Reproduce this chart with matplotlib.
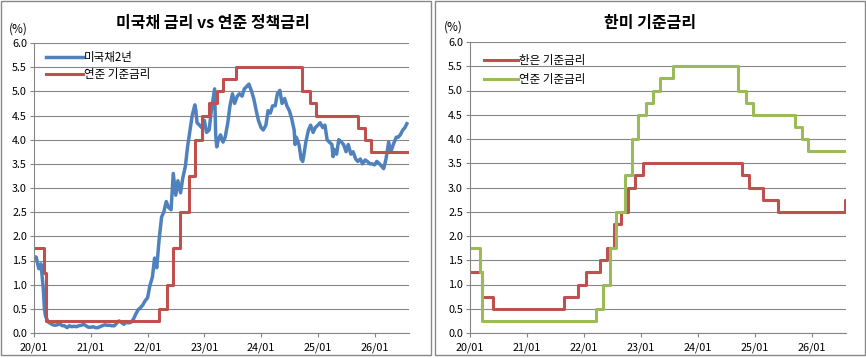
import numpy as np
import pandas as pd
import matplotlib
matplotlib.use('Agg')
import matplotlib.pyplot as plt
import matplotlib.dates as mdates
from matplotlib.patches import Rectangle

plt.rcParams['font.family'] = ['Noto Sans CJK KR', 'DejaVu Sans']

# US 2y treasury yield
ust2y_dates = [
    '2020-01-01', '2020-01-15', '2020-02-01', '2020-02-15', '2020-03-01', '2020-03-08', '2020-03-15',
    '2020-04-01', '2020-04-15', '2020-05-01', '2020-05-15', '2020-06-01', '2020-06-08', '2020-06-15',
    '2020-07-01', '2020-07-15', '2020-08-01', '2020-08-15', '2020-09-01', '2020-09-15', '2020-10-01',
    '2020-10-15', '2020-11-01', '2020-11-15', '2020-12-01', '2020-12-15',
    '2021-01-01', '2021-01-15', '2021-02-01', '2021-02-15', '2021-03-01', '2021-03-15', '2021-04-01',
    '2021-04-15', '2021-05-01', '2021-05-15', '2021-06-01', '2021-06-15', '2021-07-01', '2021-07-15',
    '2021-08-01', '2021-08-15', '2021-09-01', '2021-09-15', '2021-10-01', '2021-10-15', '2021-11-01',
    '2021-11-15', '2021-12-01', '2021-12-15',
    '2022-01-01', '2022-01-15', '2022-02-01', '2022-02-15', '2022-03-01', '2022-03-15', '2022-04-01',
    '2022-04-15', '2022-05-01', '2022-05-15', '2022-06-01', '2022-06-15', '2022-07-01', '2022-07-15',
    '2022-08-01', '2022-08-15', '2022-09-01', '2022-09-15', '2022-10-01', '2022-10-15', '2022-11-01',
    '2022-11-08', '2022-11-15', '2022-12-01', '2022-12-15',
    '2023-01-01', '2023-01-15', '2023-02-01', '2023-02-15', '2023-03-01', '2023-03-08', '2023-03-15',
    '2023-03-22', '2023-04-01', '2023-04-15', '2023-05-01', '2023-05-15', '2023-06-01', '2023-06-15',
    '2023-07-01', '2023-07-15', '2023-08-01', '2023-08-15', '2023-09-01', '2023-09-15', '2023-10-01',
    '2023-10-15', '2023-11-01', '2023-11-15', '2023-12-01', '2023-12-15',
    '2024-01-01', '2024-01-15', '2024-02-01', '2024-02-15', '2024-03-01', '2024-03-15', '2024-04-01',
    '2024-04-15', '2024-05-01', '2024-05-15', '2024-06-01', '2024-06-15', '2024-07-01', '2024-07-15',
    '2024-08-01', '2024-08-07', '2024-08-15', '2024-09-01', '2024-09-15', '2024-09-25', '2024-10-01',
    '2024-10-15', '2024-11-01', '2024-11-15', '2024-12-01', '2024-12-15',
    '2025-01-01', '2025-01-15', '2025-02-01', '2025-02-15', '2025-03-01', '2025-03-15', '2025-04-01',
    '2025-04-08', '2025-04-15', '2025-05-01', '2025-05-15', '2025-06-01', '2025-06-15', '2025-07-01',
    '2025-07-15', '2025-08-01', '2025-08-15', '2025-09-01', '2025-09-15', '2025-10-01', '2025-10-15',
    '2025-11-01', '2025-11-15', '2025-12-01', '2025-12-15',
    '2026-01-01', '2026-01-15', '2026-02-01', '2026-02-15', '2026-02-28', '2026-03-15', '2026-04-01',
    '2026-04-15', '2026-05-01', '2026-05-20', '2026-06-01', '2026-06-15', '2026-07-01', '2026-07-15',
    '2026-07-27',
]
ust2y = [
    1.58, 1.57, 1.33, 1.43, 0.90, 0.50, 0.35,
    0.23, 0.20, 0.17, 0.16, 0.17, 0.22, 0.19,
    0.15, 0.15, 0.11, 0.15, 0.13, 0.14, 0.13,
    0.15, 0.16, 0.18, 0.15, 0.12,
    0.12, 0.13, 0.11, 0.11, 0.13, 0.15, 0.17,
    0.16, 0.16, 0.15, 0.15, 0.20, 0.25, 0.22,
    0.18, 0.22, 0.21, 0.22, 0.28, 0.38, 0.48,
    0.52, 0.58, 0.66,
    0.73, 0.97, 1.16, 1.55, 1.35, 1.90, 2.40,
    2.50, 2.72, 2.60, 2.55, 3.30, 2.85, 3.15,
    2.90, 3.20, 3.45, 3.85, 4.20, 4.50, 4.72,
    4.60, 4.35, 4.30, 4.25,
    4.40, 4.15, 4.20, 4.60, 4.90, 5.05, 4.10,
    3.85, 4.00, 4.10, 3.95, 4.05, 4.35, 4.70,
    4.95, 4.75, 4.90, 4.95, 4.90, 5.05, 5.10,
    5.15, 5.00, 4.85, 4.60, 4.40,
    4.25, 4.20, 4.30, 4.60, 4.55, 4.70, 4.70,
    4.95, 5.02, 4.75, 4.85, 4.70, 4.60, 4.45,
    4.20, 3.90, 4.05, 3.90, 3.60, 3.55, 3.65,
    3.95, 4.20, 4.30, 4.15, 4.25,
    4.30, 4.35, 4.25, 4.30, 4.00, 3.95, 3.90,
    3.65, 3.80, 3.70, 4.00, 3.95, 3.90, 3.75,
    3.90, 3.70, 3.75, 3.60, 3.55, 3.60, 3.50,
    3.58, 3.55, 3.50, 3.50,
    3.48, 3.55, 3.50, 3.45, 3.40, 3.60, 3.95,
    3.75, 3.90, 4.05, 4.05, 4.10, 4.20, 4.25,
    4.33,
]

# Fed funds target (upper bound)
fed_dates = ['2020-01-01', '2020-03-03', '2020-03-16', '2022-03-17', '2022-05-05', '2022-06-16',
             '2022-07-28', '2022-09-22', '2022-11-03', '2022-12-15', '2023-02-02', '2023-03-23',
             '2023-05-04', '2023-07-27', '2024-09-19', '2024-11-08', '2024-12-19', '2025-09-18',
             '2025-10-30', '2025-12-11', '2026-08-10']
fed_rate = [1.75, 1.25, 0.25, 0.50, 1.00, 1.75, 2.50, 3.25, 4.00, 4.50, 4.75, 5.00,
            5.25, 5.50, 5.00, 4.75, 4.50, 4.25, 4.00, 3.75, 3.75]

# Bank of Korea base rate
bok_dates = ['2020-01-01', '2020-03-17', '2020-05-28', '2021-08-26', '2021-11-25', '2022-01-14',
             '2022-04-14', '2022-05-26', '2022-07-13', '2022-08-25', '2022-10-12', '2022-11-24',
             '2023-01-13', '2024-10-11', '2024-11-28', '2025-02-25', '2025-05-29', '2026-08-05',
             '2026-08-10']
bok_rate = [1.25, 0.75, 0.50, 0.75, 1.00, 1.25, 1.50, 1.75, 2.25, 2.50, 3.00, 3.25,
            3.50, 3.25, 3.00, 2.75, 2.50, 2.75, 2.75]

tick_dates = ['2020-01-01', '2021-01-01', '2022-01-01', '2023-01-01', '2024-01-01',
              '2025-01-01', '2026-01-01']

BLUE = '#4F81BD'
RED = '#C0504D'
GREEN = '#9BBB59'
GRID = '#868686'

W, H = 866, 358
fig = plt.figure(figsize=(W / 100, H / 100), dpi=100)

# panel frames
for x0, x1 in [(1, 431), (435, 865)]:
    fig.add_artist(Rectangle((x0 / W, 1 - 355 / H), (x1 - x0) / W, 354 / H,
                             transform=fig.transFigure, fill=False,
                             edgecolor='#888888', lw=1.0))


def style_axes(ax):
    ax.set_ylim(0, 6)
    ax.set_yticks(np.arange(0, 6.01, 0.5))
    ax.yaxis.set_major_formatter(matplotlib.ticker.FormatStrFormatter('%.1f'))
    ax.set_xlim(pd.Timestamp('2020-01-01'), pd.Timestamp('2026-08-10'))
    ax.set_xticks(pd.to_datetime(tick_dates))
    ax.xaxis.set_major_formatter(mdates.DateFormatter('%y/%m'))
    ax.grid(axis='y', color=GRID, lw=0.8)
    ax.set_axisbelow(True)
    for s in ['top', 'right']:
        ax.spines[s].set_visible(False)
    for s in ['left', 'bottom']:
        ax.spines[s].set_color(GRID)
        ax.spines[s].set_linewidth(0.8)
    ax.tick_params(axis='both', colors=GRID, labelcolor='black', labelsize=7.8, length=3, width=0.8)
    ax.tick_params(axis='x', pad=4)
    ax.tick_params(axis='y', pad=2)


# left panel
ax1 = fig.add_axes([34 / W, 1 - 333 / H, 375 / W, 290 / H])
style_axes(ax1)
ax1.plot(pd.to_datetime(ust2y_dates), ust2y, color=BLUE, lw=2.5, label='미국채2년')
ax1.plot(pd.to_datetime(fed_dates), fed_rate, color=RED, lw=2.2, drawstyle='steps-post',
         label='연준 기준금리')
ax1.legend(loc='upper left', bbox_to_anchor=(0.01, 1.0), frameon=False, fontsize=8.3,
           handlelength=3.2, handletextpad=0.1, labelspacing=0.35, borderaxespad=0.3)
fig.text(213 / W, 1 - 23 / H, '미국채 금리 vs 연준 정책금리', ha='center', va='center',
         fontsize=11.5, fontweight='bold')
fig.text(18 / W, 1 - 29 / H, '(%)', ha='center', va='center', fontsize=8.5)

# right panel
ax2 = fig.add_axes([470 / W, 1 - 333 / H, 376 / W, 291 / H])
style_axes(ax2)
ax2.plot(pd.to_datetime(bok_dates), bok_rate, color=RED, lw=2.2, drawstyle='steps-post',
         label='한은 기준금리')
ax2.plot(pd.to_datetime(fed_dates), fed_rate, color=GREEN, lw=2.2, drawstyle='steps-post',
         label='연준 기준금리')
ax2.legend(loc='upper left', bbox_to_anchor=(0.015, 0.985), frameon=False, fontsize=8.3,
           handlelength=3.0, handletextpad=0.1, labelspacing=0.45, borderaxespad=0.3)
fig.text(650 / W, 1 - 23 / H, '한미 기준금리', ha='center', va='center',
         fontsize=11.5, fontweight='bold')
fig.text(453 / W, 1 - 27 / H, '(%)', ha='center', va='center', fontsize=8.5)

fig.savefig('out.png', dpi=100)
